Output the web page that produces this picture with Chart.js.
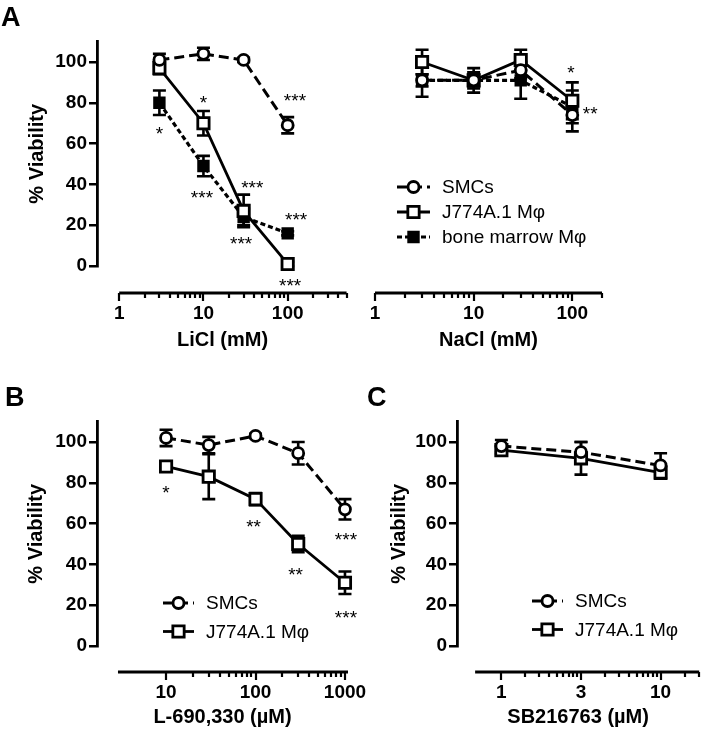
<!DOCTYPE html>
<html>
<head>
<meta charset="utf-8">
<script src="https://cdn.jsdelivr.net/npm/chart.js@4.4.0/dist/chart.umd.min.js"></script>
<style>
  body { margin: 0; background: #fff; }
  #wrap { position: relative; width: 710px; height: 730px; overflow: hidden; }
  #wrap canvas { position: absolute; left: 0; top: 0; }
</style>
</head>
<body>
<div id="wrap">
  <canvas id="cLi" width="710" height="730"></canvas>
  <canvas id="cNa" width="710" height="730"></canvas>
  <canvas id="cL6" width="710" height="730"></canvas>
  <canvas id="cSB" width="710" height="730"></canvas>
</div>
<script>
// ---- data ----
const yTicks = [0, 20, 40, 60, 80, 100];

// A: LiCl
const liclDose = [3, 10, 30, 100];
const liclSMC = [101, 104, 101, 69];
const liclSMCErr = [3, 3, 1, 4];
const liclJ774 = [97, 70, 27, 1];
const liclJ774Err = [3, 6, 8, 1];
const liclBM = [80, 49, 24, 16];
const liclBMErr = [6, 5, 4, 1];
const liclTicks = [1, 10, 100];

// A: NaCl
const naclDose = [3, 10, 30, 100];
const naclSMC = [91, 91, 96, 74];
const naclSMCErr = [3, 3, 4, 8];
const naclJ774 = [100, 91, 101, 81];
const naclJ774Err = [6, 4, 5, 9];
const naclBM = [91, 91, 91, 78];
const naclBMErr = [8, 6, 9, 8];
const naclTicks = [1, 10, 100];

// B: L-690,330
const l6Dose = [10, 30, 100, 300, 1000];
const l6SMC = [102, 98.5, 103, 94.5, 67];
const l6SMCErr = [4, 4, 1, 5.5, 5];
const l6J774 = [88, 83, 72, 50, 31];
const l6J774Err = [2, 11, 3, 4, 5.5];
const l6Ticks = [10, 100, 1000];

// C: SB216763 (equally spaced doses)
const sbDose = ['1', '3', '10'];
const sbSMC = [98, 95, 88.5];
const sbSMCErr = [3, 5, 6];
const sbJ774 = [96, 92, 85];
const sbJ774Err = [2, 8, 3];

// ---- styles ----
const FONT = "'Liberation Sans', Arial, sans-serif";
const tickFont = { family: FONT, size: 19, weight: 'bold' };
const titleFont = { family: FONT, size: 20, weight: 'bold' };

const smcStyle = { label: 'SMCs', borderColor: '#000', borderWidth: 3, borderDash: [10, 5],
  pointStyle: 'circle', pointRadius: 5.5, pointBackgroundColor: '#fff', pointBorderColor: '#000', pointBorderWidth: 2.8 };
const j774Style = { label: 'J774A.1 M\u03c6', borderColor: '#000', borderWidth: 2.8, borderDash: [],
  pointStyle: 'rect', pointRadius: 8, pointBackgroundColor: '#fff', pointBorderColor: '#000', pointBorderWidth: 2.8 };
const bmStyle = { label: 'bone marrow M\u03c6', borderColor: '#000', borderWidth: 3.2, borderDash: [5, 3],
  pointStyle: 'rect', pointRadius: 7, pointBackgroundColor: '#000', pointBorderColor: '#000', pointBorderWidth: 2.5 };

function pts(xs, ys) { return xs.map((x, i) => ({ x: x, y: ys[i] })); }
function idx(xs) { return xs.map((_, i) => i); }

function logMinors(lo, hi) {
  const out = [];
  for (let d = -1; d <= 4; d++) {
    for (let k = 2; k <= 9; k++) {
      const v = k * Math.pow(10, d);
      if (v >= lo - 1e-9 && v <= hi + 1e-9) out.push(v);
    }
  }
  return out;
}

// draws the detached x axis, error bars, asterisks, legend, panel letter
function panelPlugin(p) {
  return {
    id: 'panel',
    beforeDatasetsDraw(chart) {
      const ctx = chart.ctx, ys = chart.scales.y;
      ctx.save();
      ctx.strokeStyle = '#000';
      ctx.lineWidth = 2.6;
      ctx.setLineDash([]);
      p.errs.forEach((err, di) => {
        const meta = chart.getDatasetMeta(di);
        meta.data.forEach((pt, j) => {
          const v = chart.data.datasets[di].data[j].y;
          const y0 = ys.getPixelForValue(v - err[j]);
          const y1 = ys.getPixelForValue(v + err[j]);
          ctx.beginPath();
          ctx.moveTo(pt.x, y0); ctx.lineTo(pt.x, y1);
          ctx.moveTo(pt.x - 6.5, y0); ctx.lineTo(pt.x + 6.5, y0);
          ctx.moveTo(pt.x - 6.5, y1); ctx.lineTo(pt.x + 6.5, y1);
          ctx.stroke();
        });
      });
      ctx.restore();
    },
    afterDraw(chart) {
      const ctx = chart.ctx, xs = chart.scales.x, ys = chart.scales.y;
      const ay = chart.chartArea.bottom + p.gap;
      ctx.save();
      ctx.strokeStyle = '#000';
      ctx.fillStyle = '#000';
      ctx.setLineDash([]);
      // x axis line
      ctx.lineWidth = 2.8;
      ctx.beginPath();
      ctx.moveTo(xs.getPixelForValue(p.axisFrom), ay);
      ctx.lineTo(xs.getPixelForValue(p.axisTo), ay);
      ctx.stroke();
      ctx.lineWidth = 2.2;
      ctx.beginPath();
      p.majors.forEach(v => {
        const x = Math.round(xs.getPixelForValue(v));
        ctx.moveTo(x, ay); ctx.lineTo(x, ay + 8);
      });
      p.minors.forEach(v => {
        const x = Math.round(xs.getPixelForValue(v));
        ctx.moveTo(x, ay); ctx.lineTo(x, ay + 5);
      });
      ctx.stroke();
      // asterisks
      ctx.font = '19px ' + FONT;
      ctx.textAlign = 'center';
      ctx.textBaseline = 'alphabetic';
      p.stars.forEach(s => {
        ctx.fillText(s[2], xs.getPixelForValue(s[0]), ys.getPixelForValue(s[1]) + 10.5);
      });
      // legend
      if (p.legend) {
        const L = p.legend;
        ctx.textAlign = 'left';
        ctx.textBaseline = 'middle';
        ctx.font = '19px ' + FONT;
        L.items.forEach((di, r) => {
          const ds = chart.data.datasets[di];
          const y = L.y + r * L.dy;
          const mx = (L.x0 + L.x1) / 2;
          ctx.strokeStyle = '#000';
          ctx.lineWidth = ds.borderWidth;
          ctx.setLineDash(ds.borderDash);
          ctx.beginPath();
          ctx.moveTo(L.x0, y); ctx.lineTo(L.x1, y);
          ctx.stroke();
          ctx.setLineDash([]);
          ctx.fillStyle = ds.pointBackgroundColor;
          ctx.lineWidth = ds.pointBorderWidth;
          ctx.beginPath();
          if (ds.pointStyle === 'circle') {
            ctx.arc(mx, y, ds.pointRadius, 0, Math.PI * 2);
          } else {
            const h = ds.pointRadius * Math.SQRT1_2;
            ctx.rect(mx - h, y - h, 2 * h, 2 * h);
          }
          ctx.fill();
          ctx.stroke();
          ctx.fillStyle = '#000';
          ctx.fillText(ds.label, L.tx, y + 1);
        });
      }
      // panel letter
      if (p.letter) {
        ctx.font = 'bold 27px ' + FONT;
        ctx.textAlign = 'left';
        ctx.textBaseline = 'alphabetic';
        ctx.fillText(p.letter[0], p.letter[1], p.letter[2]);
      }
      ctx.restore();
    }
  };
}

function yScale(show, width, titlePad) {
  return {
    display: show,
    min: 0, max: 110,
    afterFit: s => { s.width = width; },
    afterBuildTicks: s => { s.ticks = yTicks.map(v => ({ value: v })); },
    grid: { drawOnChartArea: false, drawTicks: true, tickLength: 8, color: '#000', lineWidth: 2.5 },
    border: { display: true, color: '#000', width: 2.8 },
    ticks: { padding: 2, font: tickFont, color: '#000' },
    title: { display: true, text: '% Viability', font: titleFont, color: '#000', padding: { top: titlePad, bottom: 0 } }
  };
}

function xScale(type, min, max, ticks, labels, title, height, tickPad, titlePad) {
  return {
    type: type, min: min, max: max,
    afterFit: s => { s.height = height; },
    afterBuildTicks: s => { s.ticks = ticks.map(v => ({ value: v })); },
    grid: { display: false, drawTicks: false },
    border: { display: false },
    ticks: { padding: tickPad, font: tickFont, color: '#000', maxRotation: 0, autoSkip: false,
      callback: (v, i) => labels[i] },
    title: { display: true, text: title, font: titleFont, color: '#000', padding: { top: 0, bottom: titlePad } }
  };
}

function makeChart(id, datasets, scales, padding, plugin) {
  return new Chart(document.getElementById(id), {
    type: 'line',
    data: { datasets: datasets },
    options: {
      responsive: false,
      devicePixelRatio: 1,
      animation: false,
      events: [],
      layout: { padding: padding },
      plugins: { legend: { display: false }, tooltip: { enabled: false } },
      elements: { line: { tension: 0, fill: false } },
      scales: scales
    },
    plugins: [plugin]
  });
}

function lineSet(style, data) {
  return Object.assign({}, style, { data: data, clip: false, fill: false });
}

// ---- Panel A, LiCl ----
makeChart('cLi',
  [lineSet(smcStyle, pts(liclDose, liclSMC)),
   lineSet(j774Style, pts(liclDose, liclJ774)),
   lineSet(bmStyle, pts(liclDose, liclBM))],
  { x: xScale('logarithmic', 0.545, 520, liclTicks, liclTicks.map(String), 'LiCl (mM)', 90, 36, 3.2),
    y: yScale(true, 97, 25.5) },
  { left: 0, top: 41.6, right: 362, bottom: 374 },
  panelPlugin({
    gap: 27, axisFrom: 1, axisTo: 500, majors: liclTicks, minors: logMinors(2, 500),
    errs: [liclSMCErr, liclJ774Err, liclBMErr],
    stars: [[122, 83, '***'], [10, 82, '*'], [3, 67, '*'], [9.6, 35.5, '***'], [38, 40.5, '***'],
            [28, 13, '***'], [126, 25, '***'], [107, -7.5, '***']],
    letter: ['A', 1, 26]
  }));

// ---- Panel A, NaCl ----
makeChart('cNa',
  [lineSet(smcStyle, pts(naclDose, naclSMC)),
   lineSet(j774Style, pts(naclDose, naclJ774)),
   lineSet(bmStyle, pts(naclDose, naclBM))],
  { x: xScale('logarithmic', 1, 200, naclTicks, naclTicks.map(String), 'NaCl (mM)', 90, 36, 3.2),
    y: yScale(false, 0, 0) },
  { left: 375, top: 41.6, right: 108, bottom: 374 },
  panelPlugin({
    gap: 27, axisFrom: 1, axisTo: 200, majors: naclTicks, minors: logMinors(2, 200),
    errs: [naclSMCErr, naclJ774Err, naclBMErr],
    stars: [[97, 97, '*'], [152, 76.5, '**']],
    legend: { items: [0, 1, 2], x0: 397, x1: 430, tx: 442, y: 187, dy: 25 }
  }));

// ---- Panel B ----
makeChart('cL6',
  [lineSet(smcStyle, pts(l6Dose, l6SMC)),
   lineSet(j774Style, pts(l6Dose, l6J774))],
  { x: xScale('logarithmic', 1.69, 1081, l6Ticks, l6Ticks.map(String), 'L-690,330 (\u00b5M)', 84, 35, 0.2),
    y: yScale(true, 97, 24) },
  { left: 0, top: 421.6, right: 362, bottom: 0 },
  panelPlugin({
    gap: 26, axisFrom: 2.9, axisTo: 1081, majors: l6Ticks, minors: logMinors(20, 900),
    errs: [l6SMCErr, l6J774Err],
    stars: [[10, 77, '*'], [95, 60.5, '**'], [280, 37, '**'], [1025, 54, '***'], [1025, 16, '***']],
    legend: { items: [0, 1], x0: 163, x1: 194, tx: 206, y: 603, dy: 28.5 },
    letter: ['B', 5, 406]
  }));

// ---- Panel C ----
const sbMinors = [];
[0, 1, 2].forEach(u => { for (let k = 2; k <= 9; k++) { const v = u + Math.log10(k); if (v <= 2.485) sbMinors.push(v); } });
makeChart('cSB',
  [lineSet(smcStyle, pts(idx(sbDose), sbSMC)),
   lineSet(j774Style, pts(idx(sbDose), sbJ774))],
  { x: xScale('linear', -0.5576, 2.485, idx(sbDose), sbDose, 'SB216763 (\u00b5M)', 84, 35, 0.2),
    y: yScale(true, 97, 27) },
  { left: 360, top: 421.6, right: 0, bottom: 0 },
  panelPlugin({
    gap: 26, axisFrom: -0.33, axisTo: 2.485, majors: idx(sbDose), minors: sbMinors,
    errs: [sbSMCErr, sbJ774Err],
    stars: [],
    legend: { items: [0, 1], x0: 532, x1: 563, tx: 575, y: 601, dy: 28.5 },
    letter: ['C', 367, 406]
  }));
</script>
</body>
</html>
